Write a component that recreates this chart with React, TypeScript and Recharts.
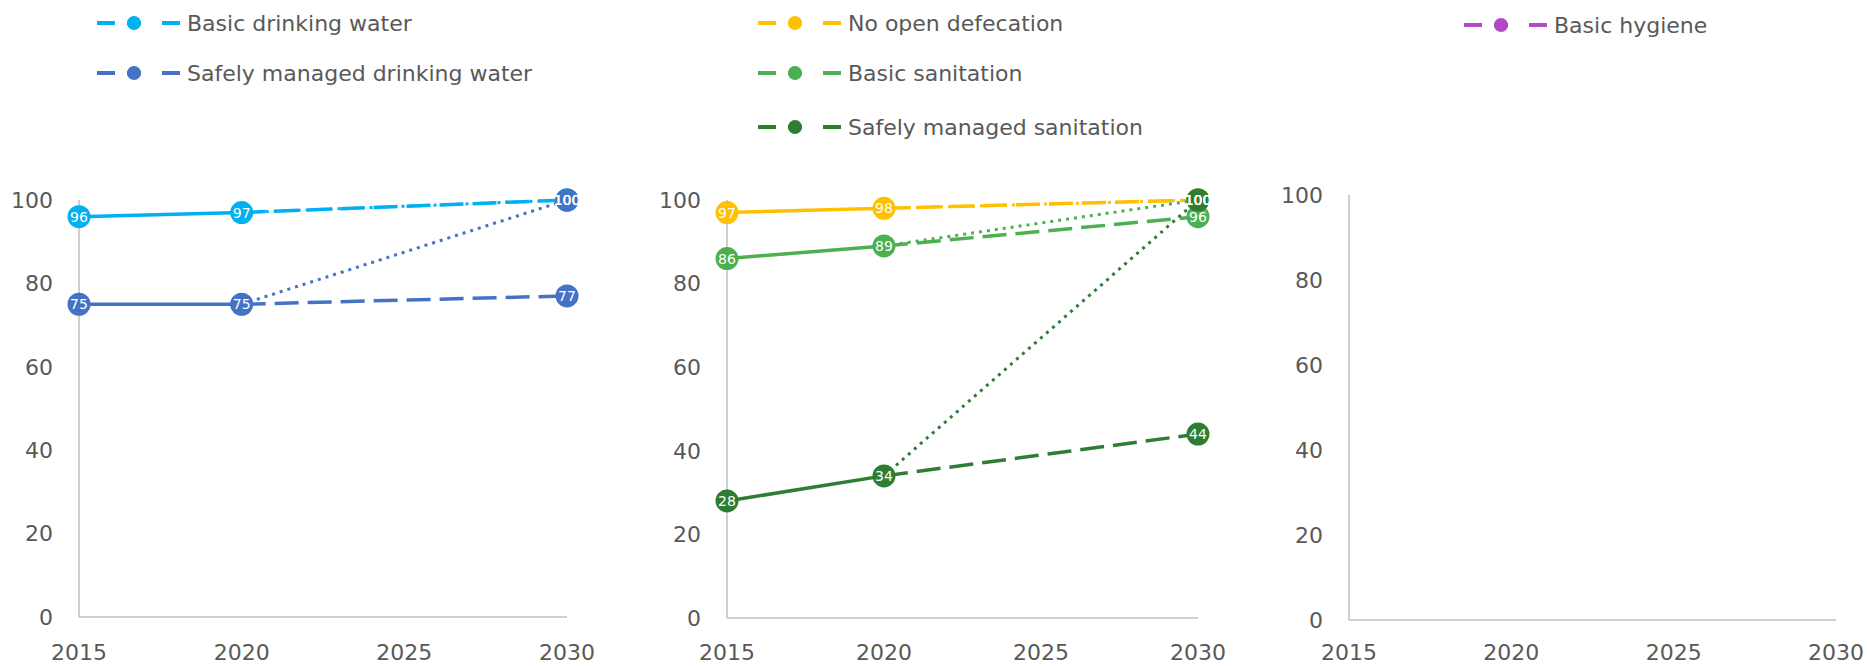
import React from "react";
import { LineChart, Line, XAxis, YAxis } from "recharts";

// years with data points; 2015 and 2020 are observed, 2030 is the projection / target
const YEARS = [2015, 2020, 2030];
const X_TICKS = [2015, 2020, 2025, 2030];
const Y_TICKS = [0, 20, 40, 60, 80, 100];

const WATER_NAMES = ["Basic drinking water", "Safely managed drinking water"];
const WATER_COLORS = ["#00B0F0", "#4472C4"];
const WATER_OBSERVED = [
  [96, 97],
  [75, 75],
];
const WATER_PROJECTED = [100, 77];
const WATER_TARGET = [100, 100];

const SANITATION_NAMES = [
  "No open defecation",
  "Basic sanitation",
  "Safely managed sanitation",
];
const SANITATION_COLORS = ["#FFC000", "#4CAF50", "#2E7D32"];
const SANITATION_OBSERVED = [
  [97, 98],
  [86, 89],
  [28, 34],
];
const SANITATION_PROJECTED = [100, 96, 44];
const SANITATION_TARGET = [100, 100, 100];

// no hygiene estimates yet: the series is kept so the panel and legend still draw
const HYGIENE_NAMES = ["Basic hygiene"];
const HYGIENE_COLORS = ["#B348C6"];
const HYGIENE_OBSERVED = [[null, null]];
const HYGIENE_PROJECTED = [null];
const HYGIENE_TARGET = [null];

const FONT = "DejaVu Sans";
const TEXT_GREY = "#595959";
const AXIS_GREY = "#BFBFBF";

type Val = number | null;
type Row = Record<string, Val>;

function buildRows(observed: Val[][], projected: Val[], target: Val[]): Row[] {
  return YEARS.map((year, i) => {
    const row: Row = { year };
    observed.forEach((obs, s) => {
      row[`obs${s}`] = i < 2 ? obs[i] : null;
      row[`proj${s}`] = i === 0 ? null : i === 1 ? obs[1] : projected[s];
      row[`tgt${s}`] = i === 0 ? null : i === 1 ? obs[1] : target[s];
    });
    return row;
  });
}

const makeDot = (color: string, lastOnly: boolean) => (props: any) => {
  const { cx, cy, index, value } = props;
  if (cy == null || value == null || (lastOnly && index !== 2)) {
    return <g key={`d${index}`} />;
  }
  return <circle key={`d${index}`} cx={cx} cy={cy} r={11.5} fill={color} />;
};

const makeLabel = (lastOnly: boolean) => (props: any) => {
  const { x, y, value, index } = props;
  if (value == null || y == null || (lastOnly && index !== 2)) {
    return <g key={`l${index}`} />;
  }
  return (
    <text
      key={`l${index}`}
      x={x}
      y={y}
      dy={5}
      textAnchor="middle"
      fill="#FFFFFF"
      fontSize={14}
      fontFamily={FONT}
    >
      {value}
    </text>
  );
};

function LegendIcon({ color }: { color: string }) {
  return (
    <svg width={84} height={20} style={{ display: "block" }}>
      <line x1={0} y1={10} x2={18} y2={10} stroke={color} strokeWidth={4} />
      <line x1={30} y1={10} x2={44} y2={10} stroke={color} strokeWidth={4} />
      <circle cx={37} cy={10} r={7} fill={color} />
      <line x1={65} y1={10} x2={83} y2={10} stroke={color} strokeWidth={4} />
    </svg>
  );
}

type LegendProps = {
  left: number;
  rows: number[];
  names: string[];
  colors: string[];
};

function PanelLegend({ left, rows, names, colors }: LegendProps) {
  return (
    <>
      {names.map((name, i) => (
        <div
          key={name}
          style={{
            position: "absolute",
            left,
            top: rows[i] - 14,
            height: 28,
            display: "flex",
            alignItems: "center",
            gap: 6,
            fontFamily: FONT,
            fontSize: 22,
            color: TEXT_GREY,
            whiteSpace: "nowrap",
          }}
        >
          <LegendIcon color={colors[i]} />
          <span>{name}</span>
        </div>
      ))}
    </>
  );
}

type PanelProps = {
  left: number;
  top: number;
  width: number;
  height: number;
  yAxisWidth: number;
  xAxisHeight: number;
  xTickMargin: number;
  empty?: boolean;
  observed: Val[][];
  projected: Val[];
  target: Val[];
  colors: string[];
};

function Panel({
  left,
  top,
  width,
  height,
  yAxisWidth,
  xAxisHeight,
  xTickMargin,
  empty = false,
  observed,
  projected,
  target,
  colors,
}: PanelProps) {
  const rows = buildRows(observed, projected, target);
  const tick = { fill: TEXT_GREY, fontSize: 22, fontFamily: FONT };

  return (
    <div style={{ position: "absolute", left, top }}>
      <LineChart
        width={width}
        height={height}
        data={rows}
        margin={{ top: 20, right: 30, bottom: 0, left: 0 }}
      >
        <XAxis
          dataKey="year"
          type="number"
          domain={[2015, 2030]}
          ticks={X_TICKS}
          interval={0}
          tickLine={false}
          tickSize={0}
          tickMargin={xTickMargin}
          height={xAxisHeight}
          axisLine={{ stroke: AXIS_GREY, strokeWidth: 1.5 }}
          tick={tick}
        />
        {/* an all-empty panel needs allowDataOverflow or the value ticks vanish;
            the filled panels skip it so markers at 100 are not clipped */}
        <YAxis
          type="number"
          domain={[0, 100]}
          ticks={Y_TICKS}
          interval={0}
          allowDataOverflow={empty}
          tickLine={false}
          tickSize={0}
          tickMargin={26}
          width={yAxisWidth}
          axisLine={{ stroke: AXIS_GREY, strokeWidth: 1.5 }}
          tick={tick}
        />
        {observed.flatMap((_, s) => [
          <Line
            key={`tgt${s}`}
            dataKey={`tgt${s}`}
            stroke={colors[s]}
            strokeWidth={3}
            strokeDasharray="3 5"
            dot={makeDot(colors[s], true)}
            label={makeLabel(true)}
            activeDot={false}
            isAnimationActive={false}
          />,
          <Line
            key={`proj${s}`}
            dataKey={`proj${s}`}
            stroke={colors[s]}
            strokeWidth={3.5}
            strokeDasharray="24 9"
            dot={makeDot(colors[s], true)}
            label={makeLabel(true)}
            activeDot={false}
            isAnimationActive={false}
          />,
          <Line
            key={`obs${s}`}
            dataKey={`obs${s}`}
            stroke={colors[s]}
            strokeWidth={3.5}
            dot={makeDot(colors[s], false)}
            label={makeLabel(false)}
            activeDot={false}
            isAnimationActive={false}
          />,
        ])}
      </LineChart>
    </div>
  );
}

export default function App() {
  return (
    <div
      style={{
        position: "absolute",
        left: 0,
        top: 0,
        width: 1867,
        height: 666,
        background: "#FFFFFF",
        overflow: "hidden",
      }}
    >
      <PanelLegend
        left={97}
        rows={[23, 73]}
        names={WATER_NAMES}
        colors={WATER_COLORS}
      />
      <PanelLegend
        left={758}
        rows={[23, 73, 127]}
        names={SANITATION_NAMES}
        colors={SANITATION_COLORS}
      />
      <PanelLegend
        left={1464}
        rows={[25]}
        names={HYGIENE_NAMES}
        colors={HYGIENE_COLORS}
      />

      <Panel
        left={0}
        top={180}
        width={597}
        height={486}
        yAxisWidth={79}
        xAxisHeight={49}
        xTickMargin={27}
        observed={WATER_OBSERVED}
        projected={WATER_PROJECTED}
        target={WATER_TARGET}
        colors={WATER_COLORS}
      />
      <Panel
        left={640}
        top={180}
        width={588}
        height={486}
        yAxisWidth={87}
        xAxisHeight={48}
        xTickMargin={26}
        observed={SANITATION_OBSERVED}
        projected={SANITATION_PROJECTED}
        target={SANITATION_TARGET}
        colors={SANITATION_COLORS}
      />
      <Panel
        left={1262}
        top={175}
        width={604}
        height={491}
        yAxisWidth={87}
        xAxisHeight={46}
        xTickMargin={24}
        empty
        observed={HYGIENE_OBSERVED}
        projected={HYGIENE_PROJECTED}
        target={HYGIENE_TARGET}
        colors={HYGIENE_COLORS}
      />
    </div>
  );
}
